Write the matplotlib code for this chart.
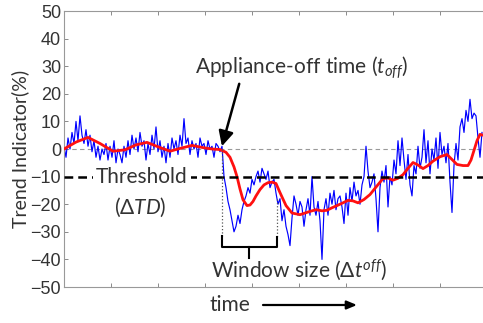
import numpy as np
import matplotlib
matplotlib.use("Agg")
import matplotlib.pyplot as plt

# pixel grid the trace was read on: one sample every 2 px from the left spine
PX0, PX_PER_UNIT = 64, 47.0

# noisy trend indicator (%)
blue_y = [
    1, -3, 4, 0, 6, 2, 10, 3, 12, 5,
    2, 7, 1, 5, -1, 3, -3, 1, -4, 0,
    -2, 2, -4, 1, -3, 3, -5, 0, -2, -5,
    1, -3, 3, -2, 5, 0, 4, -1, 6, 1,
    3, -4, 2, -2, 5, 0, 8, -1, 3, -3,
    1, -5, 2, -3, 4, 0, 3, -2, 5, 1,
    11, 2, 4, -2, 3, 0, 2, -3, 4, 1,
    2, -2, 3, 0, 1, -3, 2, 1, -1, 1,
    -10, -14, -19, -22, -26, -30, -28, -24, -27, -22,
    -19, -17, -14, -16, -11, -13, -10, -8, -12, -7,
    -9, -11, -8, -14, -12, -11, -16, -20, -18, -26,
    -22, -28, -31, -35, -25, -17, -20, -24, -19, -21,
    -28, -22, -18, -24, -10, -21, -24, -19, -26, -40,
    -22, -18, -24, -16, -20, -15, -22, -18, -17, -21,
    -27, -16, -24, -14, -19, -12, -17, -15, -20, -13,
    -10, 1, -8, -14, -12, -9, -18, -30, -14, -8,
    -12, -6, -21, -10, -13, -4, -9, 3, -6, 4,
    -4, -11, -2, -13, -17, -6, -9, 1, -7, -3,
    7, -5, 3, -9, 0, -4, 4, -7, 6, -2,
    1, -5, 2, -12, -23, -6, 2, -4, 8, 11,
    6, 14, 10, 18, 11, 13, 12, 4, -3, 6,
]
blue_px = PX0 + 2 * np.arange(len(blue_y))

# smoothed trend (red)
red_px = [64, 76, 88, 100, 113, 125, 136, 147, 158, 170, 181, 192, 203, 212, 220,
          226, 230, 234, 237, 240, 243, 247, 250, 253, 256, 260, 264, 268, 272, 276,
          280, 286, 292, 300, 305, 310, 316, 322, 327, 332, 337, 343, 348, 353, 358,
          364, 370, 376, 383, 388, 393, 398, 403, 408, 413, 418, 423, 428, 433, 440,
          447, 452, 457, 463, 468, 471, 474, 477, 480, 483]
red_y = [0, 2.5, 4.2, 2, -0.8, -0.3, 1.5, 2.4, 0.8, -0.8, 0.3, 1.3, 0.5, 0, -0.2,
         -1.2, -3, -6.5, -10, -14.5, -18.4, -20.5, -20.3, -19, -17, -14.7, -13, -12.2, -12, -12.5,
         -15.8, -20.5, -23.2, -23.8, -23.2, -22.6, -22, -22.4, -22.2, -21.3, -20.5, -19.5, -18.6, -18.8, -19.5,
         -18.3, -16.5, -13.8, -10.7, -10.5, -11.3, -10.6, -9.3, -7, -4.9, -5.8, -7.1, -6, -4.4, -2.8,
         -2, -3.8, -5.6, -6, -6, -4, -0.5, 3, 5.3, 5]

threshold = -10
t_off = 3.36      # appliance-off time
t_win = 4.53      # end of the window
y_ticks = list(range(-50, 51, 10))


def px2x(p):
    return (np.asarray(p, dtype=float) - PX0) / PX_PER_UNIT


plt.rcParams["mathtext.fontset"] = "custom"
plt.rcParams["mathtext.rm"] = "Lato"
plt.rcParams["mathtext.it"] = "Lato:italic"

TXT = "#333333"
FS = 15
fig = plt.figure(figsize=(4.83, 3.23), dpi=100)
ax = fig.add_axes([64 / 483, 36 / 323, 423 / 483, 276 / 323])

ax.axhline(0, color="#999999", lw=0.8, ls=(0, (4, 3)), zorder=1)
ax.plot(px2x(blue_px), blue_y, color="#0000ff", lw=0.85, zorder=2)
ax.plot(px2x(red_px), red_y, color="#ff1010", lw=2.0, zorder=3)
ax.axhline(threshold, color="black", lw=1.8, ls=(0, (3.5, 2)), zorder=4)

# window markers
ax.plot([t_off, t_off], [0, -31.5], color="#555555", lw=0.9, ls=":", zorder=4)
ax.plot([t_win, t_win], [-18, -31.8], color="#555555", lw=0.9, ls=":", zorder=4)
ax.plot([t_off, t_off, t_win, t_win], [-31.5, -35.5, -35.5, -31.8], color="black", lw=1.5, zorder=5)
mid = (t_off + t_win) / 2
ax.plot([mid, mid], [-35.5, -39.5], color="black", lw=1.5, zorder=5)

ax.text(1.66, threshold, "Threshold", fontsize=FS, family="Lato", color=TXT,
        ha="center", va="center", zorder=6,
        bbox=dict(facecolor="white", edgecolor="none", pad=2.0))
ax.text(1.63, -21, r"($\Delta TD$)", fontsize=FS, family="Lato", color=TXT,
        ha="center", va="center", zorder=6)
ax.text(5.0, -43.8, r"Window size ($\Delta t^{off}$)", fontsize=FS, family="Lato",
        color=TXT, ha="center", va="center", zorder=6)
ax.annotate(r"Appliance-off time ($t_{off}$)", xy=(t_off, 1.0), xytext=(5.06, 29.5),
            fontsize=FS, family="Lato", color=TXT, ha="center", va="center", zorder=6,
            arrowprops=dict(arrowstyle="-|>,head_length=0.6,head_width=0.3", color="black",
                            lw=1.8, shrinkA=0, shrinkB=0,
                            relpos=(0.21, 0.0)))

ax.set_xlim(0, 9)
ax.set_ylim(-50, 50)
ax.set_xticks(range(1, 9))
ax.set_xticklabels([])
ax.set_yticks(y_ticks)
ax.tick_params(direction="in", length=3, width=0.6, color="#777777",
               top=True, right=True, labelsize=13, labelcolor="#333333", pad=2)
for lab in ax.get_yticklabels():
    lab.set_family("Liberation Sans")
for s in ax.spines.values():
    s.set_color("#999999")
    s.set_linewidth(0.8)

ax.set_ylabel("Trend Indicator(%)", fontsize=14, family="Lato", color=TXT, labelpad=1)

fig.text(230 / 483, 1 - 305 / 323, "time", fontsize=FS, family="Lato", color=TXT,
         ha="center", va="center")
ax.annotate("", xy=(357 / 483, 1 - 305 / 323), xytext=(263 / 483, 1 - 305 / 323),
            xycoords="figure fraction", textcoords="figure fraction",
            arrowprops=dict(arrowstyle="-|>,head_length=0.6,head_width=0.25", color="black",
                            lw=1.6, shrinkA=0, shrinkB=0))

fig.savefig("out.png", dpi=100)
